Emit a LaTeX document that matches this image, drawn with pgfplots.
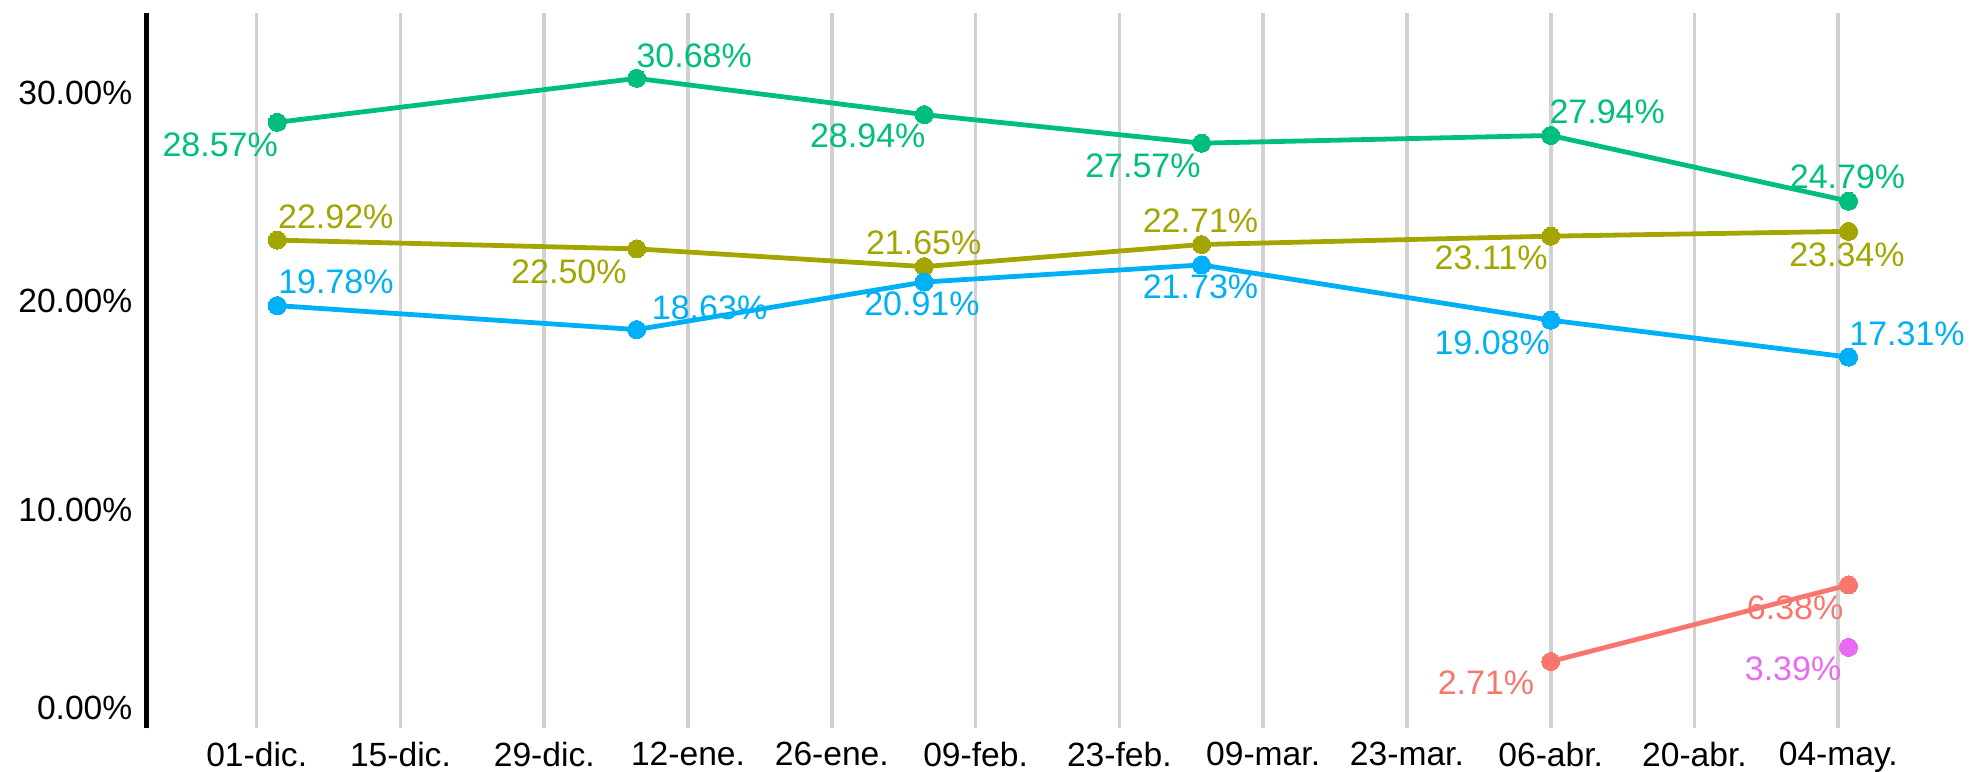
\documentclass[border=0pt]{standalone}
\usepackage{pgfplots}
\pgfplotsset{compat=1.18}
\usepackage{fontspec}
\setmainfont{Liberation Sans}
\definecolor{cgreen}{HTML}{00BF7D}
\definecolor{colive}{HTML}{A3A500}
\definecolor{cblue}{HTML}{00B0F6}
\definecolor{cred}{HTML}{F8766D}
\definecolor{cpurple}{HTML}{E76BF3}
\definecolor{gridc}{RGB}{209,209,209}
\tikzset{lab/.style={font=\fontsize{17}{20}\selectfont, inner sep=0pt, anchor=center}}
\pgfplotsset{ser/.style={line width=2.4pt, mark=*, mark size=4.5pt, mark options={solid, line width=0pt}}}
\begin{document}
\begin{tikzpicture}
\useasboundingbox (0,0) rectangle (985pt,385.5pt);
\begin{axis}[
  at={(73.35pt,21.35pt)}, anchor=south west,
  scale only axis, width=911.65pt, height=357.5pt,
  xmin=-10.71, xmax=166.83, ymin=-0.494, ymax=33.80,
  axis x line*=bottom, axis y line*=left, separate axis lines,
  x axis line style={draw=none},
  y axis line style={-, line width=2.6pt, black},
  xtick={0,14,28,42,56,70,84,98,112,126,140,154},
  xticklabels={01-dic.,15-dic.,29-dic.,12-ene.,26-ene.,09-feb.,23-feb.,09-mar.,23-mar.,06-abr.,20-abr.,04-may.},
  ytick={0,10,20,30},
  yticklabels={{\raisebox{5pt}[\height][\depth]{0.00\%}},10.00\%,20.00\%,30.00\%},
  major tick length=0pt,
  xmajorgrids, ymajorgrids=false,
  grid style={line width=1.8pt, color=gridc},
  tick label style={font=\fontsize{16.8}{20}\selectfont, inner sep=0pt},
  xticklabel style={anchor=north, yshift=-6.7pt},
  yticklabel style={anchor=east, xshift=-7pt},
  /pgf/number format/assume math mode=true,
  clip=false,
]
% labels (drawn under the lines)
\node[lab, text=cgreen] at (axis cs:-3.55,27.48) {28.57\%};
\node[lab, text=cgreen] at (axis cs:42.6,31.76) {30.68\%};
\node[lab, text=cgreen] at (axis cs:59.5,27.92) {28.94\%};
\node[lab, text=cgreen] at (axis cs:86.3,26.50) {27.57\%};
\node[lab, text=cgreen] at (axis cs:131.5,29.08) {27.94\%};
\node[lab, text=cgreen] at (axis cs:154.9,25.96) {24.79\%};
\node[lab, text=colive] at (axis cs:7.7,24.04) {22.92\%};
\node[lab, text=colive] at (axis cs:30.4,21.41) {22.50\%};
\node[lab, text=colive] at (axis cs:64.95,22.77) {21.65\%};
\node[lab, text=colive] at (axis cs:91.9,23.84) {22.71\%};
\node[lab, text=colive] at (axis cs:120.2,22.05) {23.11\%};
\node[lab, text=colive] at (axis cs:154.85,22.21) {23.34\%};
\node[lab, text=cblue] at (axis cs:7.72,20.93) {19.78\%};
\node[lab, text=cblue] at (axis cs:44.1,19.69) {18.63\%};
\node[lab, text=cblue] at (axis cs:64.78,19.85) {20.91\%};
\node[lab, text=cblue] at (axis cs:91.9,20.66) {21.73\%};
\node[lab, text=cblue] at (axis cs:120.3,18.01) {19.08\%};
\node[lab, text=cblue] at (axis cs:160.7,18.45) {17.31\%};
\node[lab, text=cred] at (axis cs:119.7,1.70) {2.71\%};
\node[lab, text=cred] at (axis cs:149.8,5.28) {6.38\%};
\node[lab, text=cpurple] at (axis cs:149.6,2.38) {3.39\%};
% series
\addplot[ser, color=cgreen] coordinates {(2,28.57) (37,30.68) (65,28.94) (92,27.57) (126,27.94) (155,24.79)};
\addplot[ser, color=colive] coordinates {(2,22.92) (37,22.50) (65,21.65) (92,22.71) (126,23.11) (155,23.34)};
\addplot[ser, color=cblue] coordinates {(2,19.78) (37,18.63) (65,20.91) (92,21.73) (126,19.08) (155,17.31)};
\addplot[ser, color=cred] coordinates {(126,2.71) (155,6.38)};
\addplot[ser, only marks, color=cpurple] coordinates {(155,3.39)};
\end{axis}
\end{tikzpicture}
\end{document}
